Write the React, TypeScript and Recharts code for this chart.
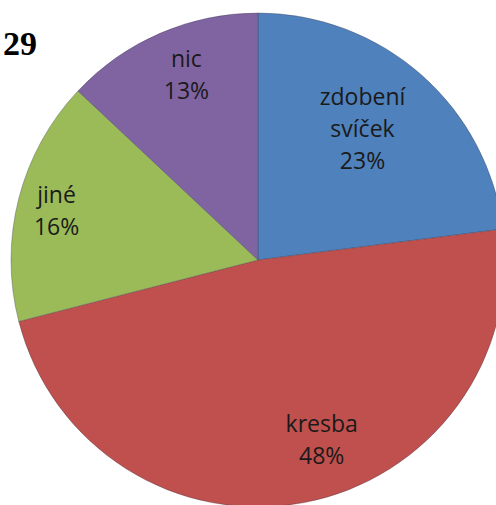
import { PieChart, Pie, Cell } from "recharts";

// Slice data (percent of answers), clockwise from 12 o'clock
const categories = ["zdobení svíček", "kresba", "jiné", "nic"];
const shares = [23, 48, 16, 13];
const sliceColors = ["#4F81BD", "#C0504D", "#9BBB59", "#8064A2"];

const data = categories.map((name, i) => ({ name, value: shares[i] }));

// Excel "best fit" places the labels a little off the mid-angle; small pixel nudges
const LABEL_NUDGE: [number, number][] = [
  [-18, 8],
  [29, -2],
  [-22, -3],
  [2, -15],
];

const FONT = "'Open Sans', 'DejaVu Sans', sans-serif";

function renderLabel(props: any) {
  const { cx, cy, midAngle, outerRadius, index, name, value } = props;
  const RAD = Math.PI / 180;
  const r = outerRadius * 0.75;
  const [nx, ny] = LABEL_NUDGE[index] || [0, 0];
  const x = cx + r * Math.cos(-midAngle * RAD) + nx;
  const y = cy + r * Math.sin(-midAngle * RAD) + ny;
  const lines = [...String(name).split(" "), `${value}%`];
  const lh = 32;
  const first = y - ((lines.length - 1) * lh) / 2 + 8;
  return (
    <text
      x={x}
      y={first}
      textAnchor="middle"
      fill="#1a1a1a"
      fontSize={23}
      fontFamily={FONT}
    >
      {lines.map((ln, i) => (
        <tspan key={i} x={x} y={first + i * lh}>
          {ln}
        </tspan>
      ))}
    </text>
  );
}

export default function App() {
  return (
    <div
      style={{
        position: "absolute",
        left: 0,
        top: 0,
        width: 496,
        height: 505,
        background: "#fff",
        overflow: "hidden",
      }}
    >
      <PieChart width={496} height={505} margin={{ top: 0, right: 0, bottom: 0, left: 0 }}>
        <Pie
          data={data}
          dataKey="value"
          nameKey="name"
          cx={258}
          cy={260}
          outerRadius={247}
          startAngle={90}
          endAngle={-270}
          stroke="rgba(60,60,80,0.35)"
          strokeWidth={1}
          label={renderLabel}
          labelLine={false}
          isAnimationActive={false}
        >
          {data.map((d, i) => (
            <Cell key={d.name} fill={sliceColors[i]} />
          ))}
        </Pie>
      </PieChart>
      <div
        style={{
          position: "absolute",
          left: 3,
          top: 24,
          fontFamily: "'Liberation Serif', 'Times New Roman', serif",
          fontWeight: "bold",
          fontSize: 34,
          lineHeight: "40px",
          color: "#000",
        }}
      >
        29
      </div>
    </div>
  );
}
